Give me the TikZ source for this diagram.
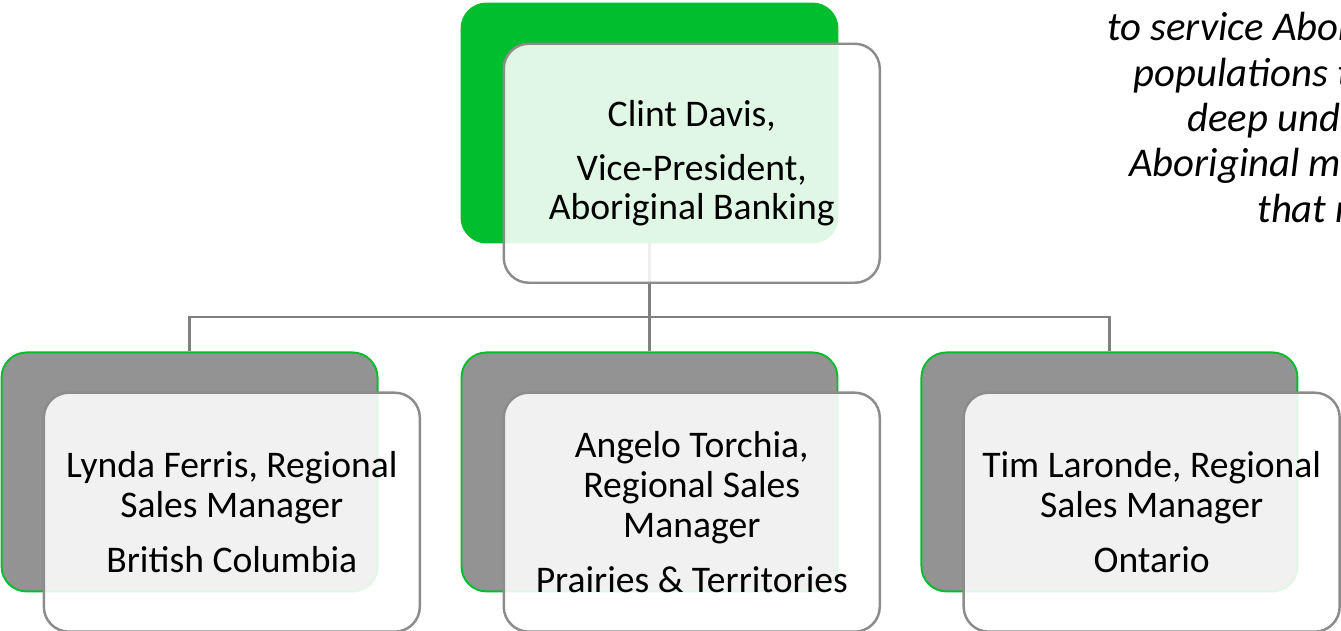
\documentclass[tikz,border=0pt]{standalone}
\usepackage{fontspec}
\setmainfont{Carlito}
\usetikzlibrary{positioning}

\definecolor{leafgreen}{RGB}{0,190,46}
\definecolor{slategray}{RGB}{147,147,147}
\definecolor{rimgray}{RGB}{140,140,140}
\definecolor{wiregray}{RGB}{128,128,128}

\begin{document}
\begin{tikzpicture}[]

\useasboundingbox (0,0) rectangle (26.82,-12.62);

\def\BoxWidth{7.52cm}
\def\BoxHeight{4.78cm}
\def\Spacing{2.16cm}
\def\HSpacing{1.64cm}
\def\ShiftX{0.84}
\def\ShiftY{0.8}

% Styles
\tikzstyle{box} =
	[rounded corners=0.5cm, minimum width=\BoxWidth, minimum height=\BoxHeight, inner sep=0pt]

\tikzstyle{back} =
	[box, draw=leafgreen, line width=1.1pt, fill=slategray]

\tikzstyle{front} =
	[box, draw=rimgray, line width=1.4pt, fill=white, fill opacity=0.88, text opacity=1,
	 align=center, anchor=north west, font=\fontsize{21.4}{22.7}\selectfont]

\tikzstyle{wire} =
	[draw=wiregray, line width=1.4pt]

\tikzstyle{mission} =
	[anchor=base west, inner sep=0pt, font=\fontsize{23.2}{25.6}\selectfont\itshape]

% Back boxes

\node (ChiefBack) at (12.99, -2.46) [back, fill=leafgreen] {};
\node (CentreBack) [back, below=\Spacing of ChiefBack] {};
\node (WestBack) [back, left=\HSpacing of CentreBack] {};
\node (EastBack) [back, right=\HSpacing of CentreBack] {};

% Edges

\coordinate (Bus) at (0, -6.34);

\draw[wire] (ChiefBack.south) -- (CentreBack.north);
\draw[wire] (WestBack.north) -- (WestBack.north |- Bus)
	-- (EastBack.north |- Bus) -- (EastBack.north);

% Front boxes

\path (ChiefBack.north west) + (\ShiftX, -\ShiftY)
	node (Chief) [front] {Clint Davis,\\[0.28cm] Vice-President,\\ Aboriginal Banking};
\path (WestBack.north west) + (\ShiftX, -\ShiftY)
	node (West) [front] {Lynda Ferris, Regional\\ Sales Manager\\[0.3cm] British Columbia};
\path (CentreBack.north west) + (\ShiftX, -\ShiftY)
	node (Centre) [front] {Angelo Torchia,\\ Regional Sales\\ Manager\\[0.32cm] Prairies \& Territories};
\path (EastBack.north west) + (\ShiftX, -\ShiftY)
	node (East) [front] {Tim Laronde, Regional\\ Sales Manager\\[0.3cm] Ontario};

% Mission text

\node (MissionA) at (22.14, -0.82) [mission] {to service Abor};
\node (MissionB) at (22.66, -1.73) [mission] {populations t};
\node (MissionC) at (23.74, -2.64) [mission] {deep unde};
\node (MissionD) at (22.58, -3.54) [mission] {Aboriginal m};
\node (MissionE) at (25.14, -4.44) [mission] {that r};

\end{tikzpicture}
\end{document}
